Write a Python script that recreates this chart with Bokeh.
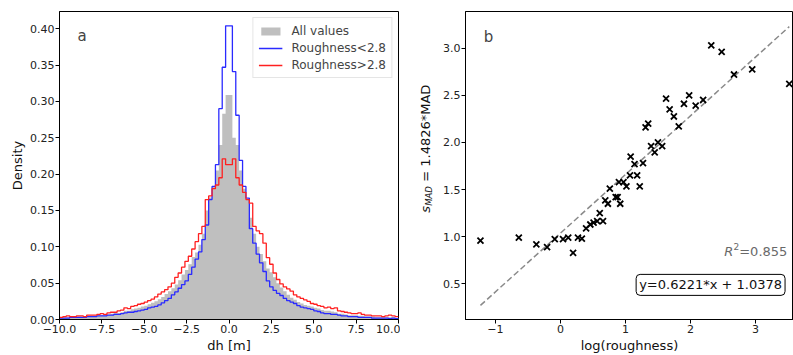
import numpy as np
from math import pi
from bokeh.plotting import figure
from bokeh.models import Range1d, FixedTicker, Label, Legend, LegendItem, CustomJSTickFormatter
from bokeh.layouts import row
from bokeh.embed import file_html
from bokeh.resources import INLINE

# ---------------- data ----------------
bin_lo, bin_hi, n_bins = -10.0, 10.0, 100

all_values = [
    0.002, 0.003, 0.003, 0.003, 0.003, 0.004, 0.004, 0.004, 0.005, 0.005,
    0.005, 0.006, 0.006, 0.007, 0.007, 0.008, 0.009, 0.009, 0.010, 0.012,
    0.012, 0.014, 0.015, 0.016, 0.018, 0.019, 0.021, 0.023, 0.025, 0.028,
    0.031, 0.035, 0.039, 0.043, 0.048, 0.054, 0.062, 0.068, 0.076, 0.086,
    0.092, 0.103, 0.118, 0.150, 0.168, 0.183, 0.205, 0.240, 0.283, 0.309,
    0.309, 0.250, 0.240, 0.205, 0.180, 0.165, 0.140, 0.118, 0.100, 0.090,
    0.080, 0.070, 0.065, 0.058, 0.050, 0.044, 0.039, 0.034, 0.030, 0.027,
    0.024, 0.022, 0.020, 0.019, 0.018, 0.016, 0.015, 0.013, 0.012, 0.012,
    0.011, 0.010, 0.008, 0.008, 0.007, 0.006, 0.006, 0.006, 0.005, 0.005,
    0.004, 0.004, 0.004, 0.003, 0.003, 0.003, 0.003, 0.003, 0.003, 0.002,
]
rough_low = [
    0.002, 0.002, 0.002, 0.003, 0.003, 0.003, 0.003, 0.003, 0.004, 0.004,
    0.004, 0.005, 0.005, 0.005, 0.006, 0.006, 0.007, 0.007, 0.008, 0.009,
    0.010, 0.010, 0.011, 0.012, 0.013, 0.014, 0.016, 0.017, 0.018, 0.020,
    0.023, 0.026, 0.029, 0.034, 0.038, 0.043, 0.048, 0.053, 0.062, 0.072,
    0.083, 0.093, 0.110, 0.130, 0.165, 0.183, 0.213, 0.290, 0.347, 0.404,
    0.404, 0.341, 0.281, 0.219, 0.183, 0.167, 0.125, 0.105, 0.090, 0.078,
    0.066, 0.053, 0.045, 0.040, 0.036, 0.033, 0.029, 0.026, 0.024, 0.022,
    0.019, 0.017, 0.016, 0.015, 0.014, 0.012, 0.011, 0.009, 0.008, 0.008,
    0.007, 0.007, 0.006, 0.005, 0.005, 0.004, 0.004, 0.004, 0.003, 0.003,
    0.003, 0.003, 0.002, 0.002, 0.002, 0.002, 0.002, 0.001, 0.002, 0.001,
]
rough_high = [
    0.003, 0.004, 0.005, 0.004, 0.004, 0.005, 0.005, 0.004, 0.006, 0.006,
    0.006, 0.007, 0.008, 0.007, 0.009, 0.010, 0.010, 0.012, 0.013, 0.016,
    0.015, 0.018, 0.019, 0.021, 0.022, 0.024, 0.026, 0.028, 0.031, 0.035,
    0.038, 0.041, 0.045, 0.050, 0.058, 0.064, 0.072, 0.080, 0.087, 0.097,
    0.107, 0.118, 0.128, 0.165, 0.170, 0.180, 0.185, 0.195, 0.221, 0.213,
    0.213, 0.221, 0.195, 0.185, 0.175, 0.165, 0.160, 0.128, 0.122, 0.118,
    0.105, 0.085, 0.076, 0.064, 0.055, 0.049, 0.045, 0.042, 0.039, 0.034,
    0.031, 0.029, 0.027, 0.025, 0.022, 0.021, 0.019, 0.018, 0.016, 0.017,
    0.015, 0.016, 0.012, 0.011, 0.010, 0.009, 0.008, 0.008, 0.009, 0.007,
    0.006, 0.006, 0.005, 0.005, 0.005, 0.004, 0.005, 0.006, 0.005, 0.004,
]

log_roughness = [
    -1.23, -0.64, -0.37, -0.205, -0.087, 0.04, 0.12, 0.195, 0.27, 0.33,
    0.395, 0.46, 0.51, 0.565, 0.605, 0.655, 0.69, 0.73, 0.76, 0.85,
    0.88, 0.92, 0.90, 0.97, 1.015, 1.07, 1.18, 1.22, 1.08, 1.14,
    1.27, 1.31, 1.35, 1.395, 1.45, 1.50, 1.565, 1.625, 1.68, 1.745,
    1.82, 1.90, 1.98, 2.08, 2.195, 2.32, 2.48, 2.67, 2.95, 3.52,
]
s_mad = [
    0.96, 0.99, 0.92, 0.89, 0.975, 0.975, 0.99, 0.83, 0.99, 0.98,
    1.09, 1.13, 1.15, 1.165, 1.25, 1.165, 1.385, 1.35, 1.51, 1.42,
    1.42, 1.35, 1.58, 1.58, 1.535, 1.65, 1.65, 1.535, 1.85, 1.77,
    1.78, 2.16, 2.20, 1.96, 1.895, 2.0, 1.96, 2.465, 2.35, 2.275,
    2.17, 2.41, 2.50, 2.39, 2.45, 3.03, 2.96, 2.72, 2.775, 2.62,
]
fit_slope = 0.6221
fit_intercept = 1.0378
r_squared = 0.855

hist_x_ticks = [-10, -7.5, -5, -2.5, 0, 2.5, 5, 7.5, 10]
hist_y_ticks = [0.0, 0.05, 0.10, 0.15, 0.20, 0.25, 0.30, 0.35, 0.40]
sc_x_ticks = [-1, 0, 1, 2, 3]
sc_y_ticks = [0.5, 1.0, 1.5, 2.0, 2.5, 3.0]

FONT = "DejaVu Sans"
H = 355


def fmt(decimals):
    return CustomJSTickFormatter(code=f"return tick.toFixed({decimals}).replace('-', '\\u2212');")


def style_axes(p):
    p.grid.visible = False
    p.outline_line_color = "black"
    p.outline_line_width = 1
    for ax in list(p.xaxis) + list(p.yaxis):
        ax.major_tick_out = 4
        ax.major_tick_in = 0
        ax.minor_tick_out = 0
        ax.minor_tick_in = 0
        ax.major_tick_line_color = "black"
        ax.axis_line_color = "black"
        ax.major_label_text_font = FONT
        ax.major_label_text_font_size = "11px"
        ax.major_label_text_color = "#222222"
        ax.major_label_standoff = 1
        ax.axis_label_text_font = FONT
        ax.axis_label_text_font_size = "13px"
        ax.axis_label_text_font_style = "normal"
        ax.axis_label_text_color = "#111111"
        ax.axis_label_standoff = 2


# ---------------- panel a ----------------
edges = np.linspace(bin_lo, bin_hi, n_bins + 1)

p1 = figure(width=400, height=H, x_range=Range1d(-10, 10), y_range=Range1d(0, 0.4237),
            output_backend="svg", toolbar_location=None,
            min_border_left=59, min_border_right=2, min_border_top=11, min_border_bottom=35)

r_all = p1.varea_step(x=edges, y1=np.zeros(n_bins + 1), y2=all_values + [all_values[-1]],
                      step_mode="after", fill_color="#bfbfbf")
r_low = p1.step(x=edges, y=rough_low + [rough_low[-1]], mode="after",
                line_color="#2a2aff", line_width=1.3)
r_high = p1.step(x=edges, y=rough_high + [rough_high[-1]], mode="after",
                 line_color="#ff2020", line_width=1.3)

p1.xaxis.axis_label = "dh [m]"
p1.yaxis.axis_label = "Density"
p1.xaxis.ticker = FixedTicker(ticks=hist_x_ticks)
p1.yaxis.ticker = FixedTicker(ticks=hist_y_ticks)
p1.xaxis.formatter = fmt(1)
p1.yaxis.formatter = fmt(2)
style_axes(p1)

legend = Legend(items=[LegendItem(label="All values", renderers=[r_all]),
                       LegendItem(label="Roughness<2.8", renderers=[r_low]),
                       LegendItem(label="Roughness>2.8", renderers=[r_high])],
                location="top_right", label_text_font=FONT, label_text_font_size="12px",
                glyph_width=24, glyph_height=10, label_standoff=9, padding=5, spacing=2,
                margin=6, label_height=15, border_line_color="#cccccc",
                background_fill_alpha=0.85)
p1.add_layout(legend)

p1.add_layout(Label(x=-8.94, y=0.39, text="a", text_font=FONT, text_font_size="15px",
                    text_baseline="alphabetic"))

# ---------------- y label strip for panel b ----------------
pl = figure(width=35, height=H, x_range=Range1d(0, 35), y_range=Range1d(0, H),
            output_backend="svg", toolbar_location=None,
            x_axis_location=None, y_axis_location=None, min_border=0)
pl.grid.visible = False
pl.outline_line_color = None
lab_x, lab_y = 25, H - 232
common = dict(x=lab_x, y=lab_y, angle=pi / 2, text_font=FONT, text_align="left",
              text_baseline="middle", text_color="#111111")
pl.add_layout(Label(text="s", text_font_size="13px", text_font_style="italic", **common))
pl.add_layout(Label(text="MAD", text_font_size="8.5px", text_font_style="italic",
                    x_offset=3, y_offset=7, **common))
pl.add_layout(Label(text="= 1.4826*MAD", text_font_size="13px", y_offset=31, **common))

# ---------------- panel b ----------------
p2 = figure(width=358, height=H, x_range=Range1d(-1.46, 3.585), y_range=Range1d(0.123, 3.388),
            output_backend="svg", toolbar_location=None,
            min_border_left=30, min_border_right=0, min_border_top=11, min_border_bottom=35)

x_fit = [min(log_roughness), max(log_roughness)]
y_fit = [fit_slope * v + fit_intercept for v in x_fit]
p2.line(x=x_fit, y=y_fit, line_dash="6 3", line_color="#8a8a8a", line_width=1.5)
p2.scatter(x=log_roughness, y=s_mad, marker="x", size=8.5, line_color="black", line_width=1.8)

p2.xaxis.axis_label = "log(roughness)"
p2.xaxis.ticker = FixedTicker(ticks=sc_x_ticks)
p2.yaxis.ticker = FixedTicker(ticks=sc_y_ticks)
p2.xaxis.formatter = fmt(0)
p2.yaxis.formatter = fmt(1)
style_axes(p2)

# R^2 annotation
r2_x, r2_y = 3.49, 0.84
p2.add_layout(Label(x=r2_x, y=r2_y, text=f"={r_squared:.3f}", text_font=FONT, text_font_size="13px",
                    text_color="#696969", text_align="right", text_baseline="middle"))
p2.add_layout(Label(x=r2_x, y=r2_y, text="2", text_font=FONT, text_font_size="9px",
                    text_color="#696969", text_align="right", text_baseline="middle",
                    x_offset=-48, y_offset=5))
p2.add_layout(Label(x=r2_x, y=r2_y, text="R", text_font=FONT, text_font_size="13px",
                    text_font_style="italic", text_color="#696969", text_align="right",
                    text_baseline="middle", x_offset=-54))

p2.add_layout(Label(x=3.455, y=0.49, text=f"y={fit_slope}*x + {fit_intercept}", text_font=FONT,
                    text_font_size="13px", text_color="#111111", text_align="right",
                    text_baseline="middle", border_line_color="black", border_line_width=1,
                    background_fill_color="white", padding=3, border_radius=4))

p2.add_layout(Label(x=-1.18, y=3.12, text="b", text_font=FONT, text_font_size="15px",
                    text_baseline="alphabetic"))

layout = row(p1, pl, p2)
open("out.html", "w").write(file_html(layout, INLINE))
